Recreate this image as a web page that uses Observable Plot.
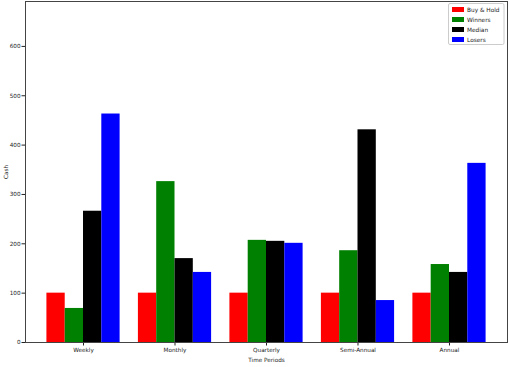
<!DOCTYPE html>
<html>
<head>
<meta charset="utf-8">
<script src="https://cdn.jsdelivr.net/npm/d3@7"></script>
<script src="https://cdn.jsdelivr.net/npm/@observablehq/plot@0.6"></script>
<style>
  html, body { margin: 0; padding: 0; background: #fff; }
  svg { display: block; }
</style>
</head>
<body>
<div id="chart"></div>
<script>
const periods = ["Weekly", "Monthly", "Quarterly", "Semi-Annual", "Annual"];
const seriesNames = ["Buy & Hold", "Winners", "Median", "Losers"];
const seriesColors = ["#ff0000", "#008000", "#000000", "#0000ff"];
const buyHold = [100, 100, 100, 100, 100];
const winners = [69, 326, 207, 186, 158];
const median = [266, 170, 205, 431, 142];
const losers = [463, 142, 201, 85, 363];
const yTicks = [0, 100, 200, 300, 400, 500, 600];

const barWidth = 0.2;
const allSeries = [buyHold, winners, median, losers];
const rows = [];
periods.forEach((p, i) => {
  seriesNames.forEach((s, j) => rows.push({
    period: p, series: s, value: allSeries[j][i],
    x1: i + (j - 2) * barWidth, x2: i + (j - 1) * barWidth
  }));
});

const font = "DejaVu Sans, sans-serif";
const chart = Plot.plot({
  width: 509,
  height: 367,
  marginLeft: 25,
  marginRight: 2,
  marginTop: 1,
  marginBottom: 25,
  style: {fontFamily: font, fontSize: "5.7px", color: "#222", background: "#fff"},
  x: {domain: [-0.634, 4.634]},
  y: {domain: [0, 691]},
  color: {domain: seriesNames, range: seriesColors},
  marks: [
    Plot.rectY(rows, {x1: "x1", x2: "x2", y: "value", fill: "series"}),
    Plot.axisX({ticks: d3.range(periods.length), tickFormat: i => periods[i], tickSize: 3.5, tickPadding: 1.5,
      label: "Time Periods", labelAnchor: "center", labelArrow: "none", labelOffset: 19, fontSize: 5.7}),
    Plot.axisY({ticks: yTicks, tickSize: 3.5, tickPadding: 1.5, label: "Cash", labelAnchor: "center",
      labelArrow: "none", labelOffset: 22, fontSize: 5.7}),
    Plot.frame({stroke: "#444", strokeWidth: 1})
  ]
});
document.getElementById("chart").appendChild(chart);

// legend (matplotlib-like box at top right)
const svg = d3.select(chart);
const lg = svg.append("g").attr("font-family", font).attr("font-size", 5.8).attr("text-anchor", "start");
lg.append("rect").attr("x", 448.5).attr("y", 3.5).attr("width", 55.5).attr("height", 41)
  .attr("fill", "#fff").attr("fill-opacity", 0.85).attr("stroke", "#ccc").attr("rx", 1.5);
seriesNames.forEach((s, i) => {
  const cy = 9.5 + i * 10;
  lg.append("rect").attr("x", 452).attr("y", cy - 2.5).attr("width", 12).attr("height", 5).attr("fill", seriesColors[i]);
  lg.append("text").attr("x", 467).attr("y", cy).attr("dy", "0.35em").attr("fill", "#222").text(s);
});
</script>
</body>
</html>
